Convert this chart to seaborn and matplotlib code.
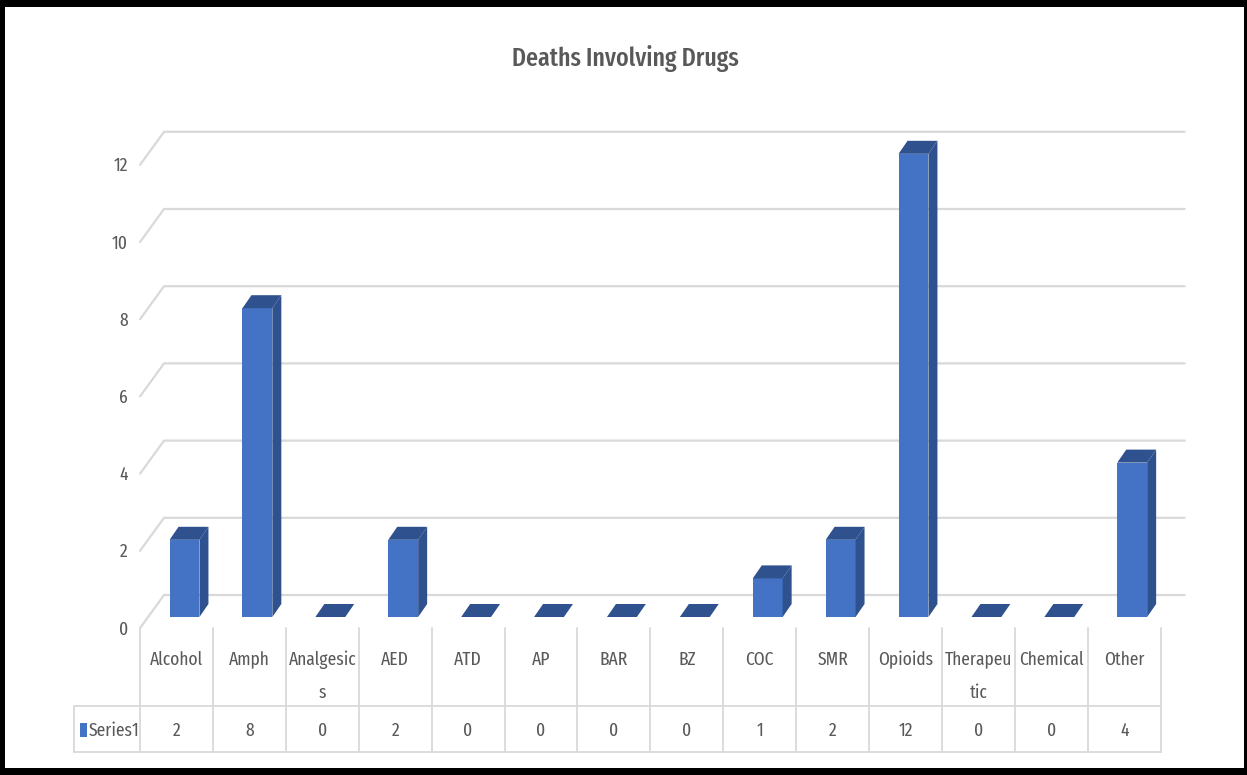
import matplotlib
matplotlib.use("Agg")
import matplotlib.pyplot as plt
import seaborn as sns
from matplotlib import font_manager
from matplotlib.transforms import offset_copy
from matplotlib.patches import Polygon, Rectangle
from matplotlib.lines import Line2D

# ---- data -------------------------------------------------------------
categories = ["Alcohol", "Amph", "Analgesics", "AED", "ATD", "AP", "BAR",
              "BZ", "COC", "SMR", "Opioids", "Therapeutic", "Chemical", "Other"]
cell_labels = ["Alcohol", "Amph", "Analgesic\ns", "AED", "ATD", "AP", "BAR",
               "BZ", "COC", "SMR", "Opioids", "Therapeu\ntic", "Chemical", "Other"]
deaths = [2, 8, 0, 2, 0, 0, 0, 0, 1, 2, 12, 0, 0, 4]
y_ticks = [0, 2, 4, 6, 8, 10, 12]
series_name = "Series1"
title = "Deaths Involving Drugs"

# ---- style ------------------------------------------------------------
W, H, DPI = 1247, 775, 100
FRONT = "#4472C4"
SHADE = "#2F528F"
GRID = "#D9D9D9"
TEXT = "#595959"

sns.set_style("white")
names = {f.name for f in font_manager.fontManager.ttflist}
family, k = "DejaVu Sans", 0.72
for cand, scale in [("Fira Sans Extra Condensed", 1.0),
                    ("Roboto Condensed", 0.9),
                    ("Liberation Sans", 0.8)]:
    if cand in names:
        family, k = cand, scale
        break
plt.rcParams["font.family"] = [family, "DejaVu Sans"]

label_px = 19 * k                 # font size in pixels
label_fs = label_px * 72 / DPI
title_fs = 26 * k * 72 / DPI
LINE_STEP = 33                    # baseline distance of wrapped cell text

fig = plt.figure(figsize=(W / DPI, H / DPI), dpi=DPI, facecolor="black")
# white chart area inside a black frame
fig.patches.append(Rectangle((5 / W, 7 / H), 1239 / W, 761 / H,
                             transform=fig.transFigure, facecolor="white",
                             edgecolor="none", zorder=-10))

ax = fig.add_axes([148.05 / W, 158 / H, 1020.6 / W, 501.8 / H])
sns.barplot(x=categories, y=deaths, order=categories, color=FRONT,
            saturation=1, width=0.41, linewidth=0, edgecolor="none", ax=ax)
ax.set_xlim(-0.5, len(categories) - 0.5)
ax.set_ylim(0, 13)
ax.axis("off")

to_data = ax.transData.inverted()


def shift(x, y, dx, dy):
    """Move a data point by (dx, dy) screen pixels, returned in data units."""
    px, py = ax.transData.transform((x, y))
    return tuple(to_data.transform((px + dx, py + dy)))


# plane offsets (pixels) relative to the bar plane
FX, FY = -8, -11      # front edge of the floor
BX, BY = 16, 22       # back wall
DX, DY = 9, 13        # bar depth

x_lo, x_hi = -0.5, len(categories) - 0.5

# gridlines: diagonal from the front edge up to the back wall, then across
for v in y_ticks:
    p0 = shift(x_lo, v, FX, FY)
    p1 = shift(x_lo, v, BX, BY)
    p2 = shift(x_hi, v, BX, BY)
    ax.plot([p0[0], p1[0], p2[0]], [p0[1], p1[1], p2[1]], color=GRID,
            lw=1.6, zorder=0.5, clip_on=False, solid_joinstyle="miter")

# 3D side and top faces of each bar
for bar in list(ax.patches):
    x0 = bar.get_x()
    x1 = x0 + bar.get_width()
    h = bar.get_height()
    side = [(x1, 0), (x1, h), shift(x1, h, DX, DY), shift(x1, 0, DX, DY)]
    top = [(x0, h), (x1, h), shift(x1, h, DX, DY), shift(x0, h, DX, DY)]
    if h > 0:
        ax.add_patch(Polygon(side, closed=True, facecolor=SHADE,
                             edgecolor="none", zorder=3, clip_on=False))
    ax.add_patch(Polygon(top, closed=True, facecolor=SHADE,
                         edgecolor="none", zorder=3, clip_on=False))

# y tick labels, set on the front edge
cap_half = 0.35 * label_px
tick_tr = offset_copy(ax.transData, fig=fig, x=FX - 12, y=FY - cap_half,
                      units="dots")
for v in y_ticks:
    ax.text(x_lo, v, str(v), transform=tick_tr, ha="right", va="baseline",
            fontsize=label_fs, color=TEXT, clip_on=False)

# ---- data table -------------------------------------------------------
fx0, fy0 = ax.transData.transform((x_lo, 0))
fx0 += FX
fy0 += FY
fx1 = ax.transData.transform((x_hi, 0))[0] + FX
col_w = (fx1 - fx0) / len(categories)
row1 = fy0 - 78
row2 = fy0 - 124
head_x = fx0 - 66


def fig_line(xs, ys):
    fig.add_artist(Line2D([x / W for x in xs], [y / H for y in ys],
                          color=GRID, lw=1.3, transform=fig.transFigure))


fig_line([head_x, fx1], [row1, row1])
fig_line([head_x, fx1], [row2, row2])
fig_line([head_x, head_x], [row1, row2])
for j in range(len(categories) + 1):
    xb = fx0 + j * col_w
    fig_line([xb, xb], [fy0, row2])

value_tr = offset_copy(ax.transData, fig=fig, x=FX, y=FY - 108, units="dots")
for i, (lab, val) in enumerate(zip(cell_labels, deaths)):
    for j, part in enumerate(lab.split("\n")):
        line_tr = offset_copy(ax.transData, fig=fig, x=FX,
                              y=FY - 37 - j * LINE_STEP, units="dots")
        ax.text(i, 0, part, transform=line_tr, ha="center", va="baseline",
                fontsize=label_fs, color=TEXT, clip_on=False)
    ax.text(i, 0, str(val), transform=value_tr, ha="center", va="baseline",
            fontsize=label_fs, color=TEXT, clip_on=False)

# series name with its legend key
key_tr = offset_copy(ax.transData, fig=fig, x=FX - 51, y=FY - 108, units="dots")
ax.text(x_lo, 0, series_name, transform=key_tr, ha="left", va="baseline",
        fontsize=label_fs, color=TEXT, clip_on=False)
fig.patches.append(Rectangle(((head_x + 6) / W, (row1 - 31) / H), 7 / W, 14 / H,
                             transform=fig.transFigure, facecolor=FRONT,
                             edgecolor="none"))

fig.text(625 / W, 1 - 66 / H, title, ha="center", va="baseline",
         fontsize=title_fs, fontweight="medium", color=TEXT)

fig.savefig("out.png", dpi=DPI, facecolor=fig.get_facecolor())
